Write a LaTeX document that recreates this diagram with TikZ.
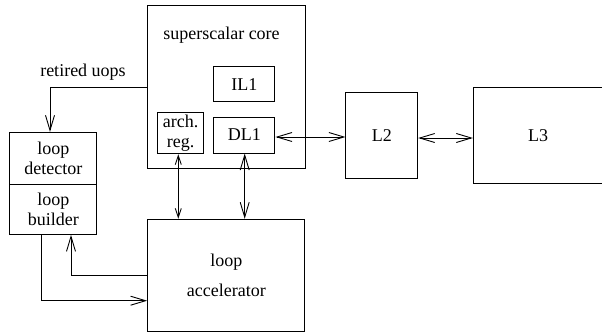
\documentclass[tikz,border=0pt]{standalone}
\usepackage{fontspec}
\setmainfont{Liberation Serif}
\usetikzlibrary{arrows.meta}
\tikzset{
  blk/.style={draw, rectangle, line width=1pt, inner sep=0pt, align=center,
              font=\fontsize{18}{20}\selectfont},
  lbl/.style={inner sep=0pt, font=\fontsize{18}{20}\selectfont},
  conn/.style={line width=0.9pt, >={Straight Barb[length=15pt,width=9pt,line width=0.9pt]}},
  sconn/.style={line width=0.9pt, >={Straight Barb[length=9pt,width=6pt,line width=0.9pt]}}
}
\begin{document}
\begin{tikzpicture}[x=1pt,y=-1pt]
\useasboundingbox (0,0) rectangle (602,333);
% core
\node[blk, minimum width=157.5pt, minimum height=162.5pt] (core) at (226.25,86.75) {};
\node[lbl] (corelabel) at (221.5,35) {superscalar core};
\node[blk, minimum width=61.3pt, minimum height=35.3pt] (il1) at (244.3,84.3) {IL1};
\node[blk, minimum width=61.3pt, minimum height=36pt] (dl1) at (244.3,135) {DL1};
\node[blk, minimum width=46pt, minimum height=41pt] (arch) at (180.7,133.2) {arch.\\reg.};
% caches
\node[blk, minimum width=71.7pt, minimum height=86pt] (l2) at (381.8,135.3) {L2};
\node[blk, minimum width=129.7pt, minimum height=96.4pt] (l3) at (538.2,135.5) {L3};
% loop detector / builder
\node[blk, minimum width=86.7pt, minimum height=51.7pt] (det) at (53.3,158.2) {loop\\detector};
\node[blk, minimum width=86.7pt, minimum height=50.3pt] (bld) at (53.3,209.2) {loop\\builder};
\draw[line width=1.6pt] (det.south west) -- (det.south east);
% accelerator
\node[blk, minimum width=157.3pt, minimum height=112.4pt] (acc) at (226.3,275.5) {loop\\[10pt]accelerator};
% label
\node[lbl] (ret) at (83,72) {retired uops};
% connectors
\draw[conn,->] (core.west |- {(0,87)}) -| ([xshift=-3.3pt]det.north);
\draw[conn,<->] ([yshift=-2pt]dl1.east) -- ([yshift=-2pt]dl1.east -| l2.west);
\draw[conn,<->] ([yshift=-2.7pt]l2.east) -- ([yshift=-2.7pt]l2.east -| l3.west);
\draw[sconn,<->] ([xshift=-2.4pt]arch.south) -- ([xshift=-2.4pt]arch.south |- acc.north);
\draw[conn,<->] ([xshift=0.4pt]dl1.south) -- ([xshift=0.4pt]dl1.south |- acc.north);
\draw[conn,->] (acc.west |- {(0,275.7)}) -| ([xshift=17.7pt]bld.south);
\draw[conn,->] ([xshift=-12.3pt]bld.south) |- (acc.west |- {(0,300.7)});
\end{tikzpicture}
\end{document}
